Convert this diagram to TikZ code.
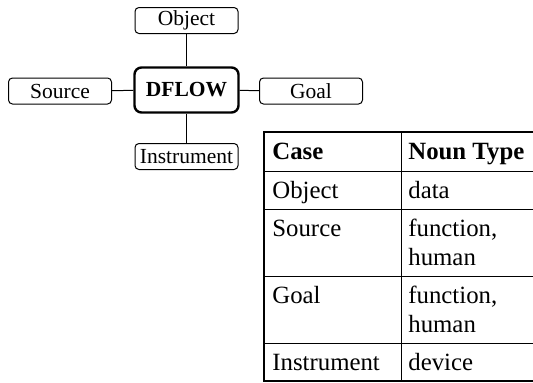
\documentclass[tikz,border=0pt]{standalone}
\usepackage{fontspec}
\setmainfont{Liberation Serif}
\usetikzlibrary{positioning}
\tikzset{every picture/.style={line width=0.8pt}}
\tikzset{
  casebox/.style={draw, line width=1pt, rounded corners=4pt, minimum width=103pt, minimum height=26pt, inner sep=0pt, font=\fontsize{21.5}{25}\selectfont},
  verbbox/.style={casebox, line width=2.4pt, rounded corners=7pt, minimum width=104pt, minimum height=45pt, font=\fontsize{21.5}{25}\selectfont\bfseries},
  cell/.style={anchor=base west, inner sep=0pt, font=\fontsize{24.8}{29}\selectfont}
}

\begin{document}
\begin{tikzpicture}[x=1pt, y=-1pt]
    \useasboundingbox (0,0) rectangle (533,383);

    % Verb and its cases
    \node[verbbox] (dflow) at (186.5,90) {DFLOW};
    \node[casebox] (object) at (186.5,20.5) {Object};
    \node[casebox] (source) at (60,91) {Source};
    \node[casebox] (goal) at (311,91) {Goal};
    \node[casebox] (instrument) at (186.5,156.5) {Instrument};

    \draw[line width=1pt] (object) -- (dflow);
    \draw[line width=1pt] (dflow) -- (instrument);
    \draw[line width=1pt] (source) -- (dflow);
    \draw[line width=1pt] (dflow) -- (goal);

    % Case table (cut off at the right)
    \draw[line width=2.2pt] (533,132) -- (264,132) -- (264,381) -- (533,381);
    \foreach \y in {171,209,276,343} {
        \draw[line width=1pt] (264,\y) -- (533,\y);
    }
    \draw[line width=1pt] (401,132) -- (401,381);

    \node[cell, font=\fontsize{24.8}{29}\selectfont\bfseries] (hdcase) at (272,159.5) {Case};
    \node[cell, font=\fontsize{24.8}{29}\selectfont\bfseries] (hdtype) at (408,159.5) {Noun Type};

    \node[cell] (cobject) at (272,198) {Object};
    \node[cell] (tobject) at (408,198) {data};
    \node[cell] (csource) at (272,236) {Source};
    \node[cell] (tsourcea) at (408,236) {function,};
    \node[cell] (tsourceb) at (408,265) {human};
    \node[cell] (cgoal) at (272,303) {Goal};
    \node[cell] (tgoala) at (408,303) {function,};
    \node[cell] (tgoalb) at (408,332) {human};
    \node[cell] (cinstr) at (272,370) {Instrument};
    \node[cell] (tinstr) at (408,370) {device};
\end{tikzpicture}
\end{document}
